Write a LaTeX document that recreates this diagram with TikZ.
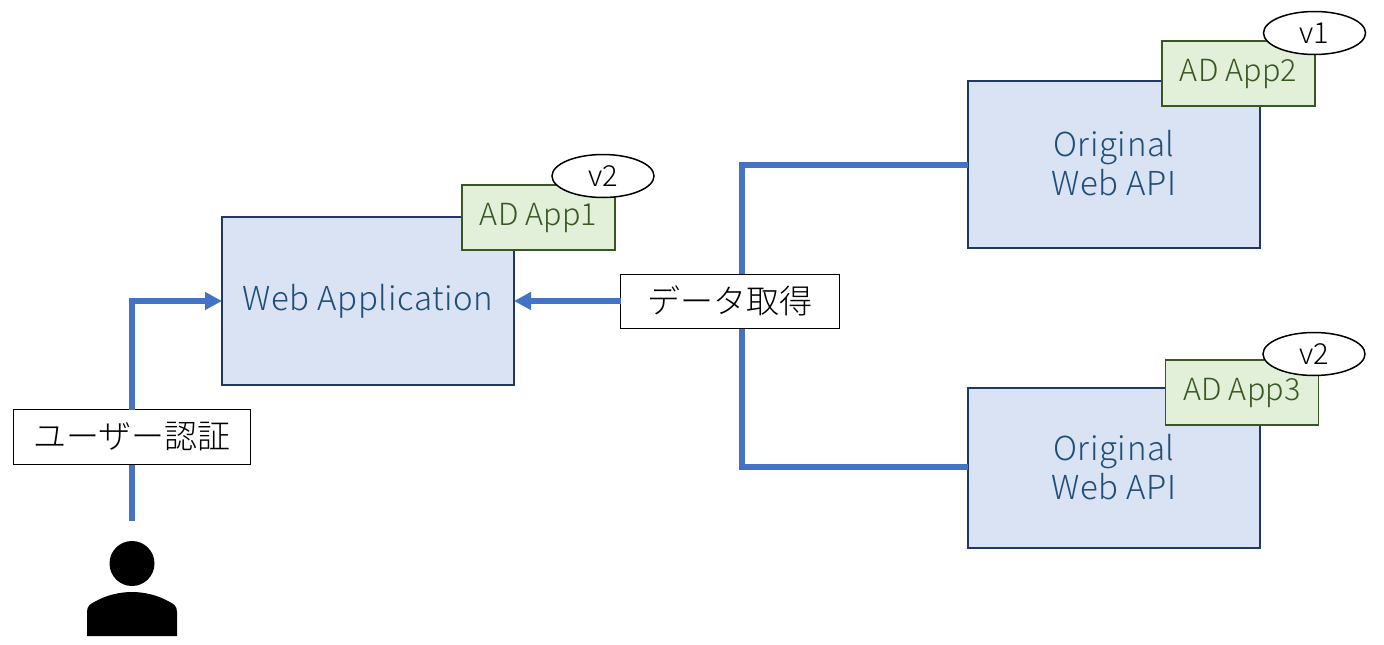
\documentclass[tikz,border=0pt]{standalone}
\usepackage{fontspec}
\setmainfont{Noto Sans CJK JP}[UprightFont=* Light]
\newfontfamily\webfont{Noto Sans CJK JP Light}[LetterSpace=1.8]
\newfontfamily\adfont{Noto Sans CJK JP Light}[LetterSpace=0.5]
\usetikzlibrary{arrows.meta,shapes.geometric}
\definecolor{boxfill}{HTML}{DAE3F3}
\definecolor{boxline}{HTML}{203864}
\definecolor{boxtext}{HTML}{1F4E79}
\definecolor{adfill}{HTML}{E2F0D9}
\definecolor{adline}{HTML}{385723}
\definecolor{conn}{HTML}{4472C4}
\tikzset{x=1pt,y=-1pt,
 every node/.style={inner sep=0pt,outer sep=0pt},
 webbox/.style={draw=boxline,line width=1.5pt,fill=boxfill,text=boxtext,font=\webfont\fontsize{33}{39.5}\selectfont,align=center,anchor=center},
 adbox/.style={draw=adline,line width=1.5pt,fill=adfill,text=adline,font=\adfont\fontsize{30.5}{36}\selectfont,anchor=center,minimum width=153pt,minimum height=65pt},
 verbubble/.style={draw=black,line width=1.5pt,fill=white,ellipse,font=\fontsize{29}{34}\selectfont,minimum width=102pt,minimum height=43pt,anchor=center},
 labelbox/.style={draw=black,line width=0.9pt,fill=white,font=\fontsize{33}{38}\selectfont,anchor=center},
 pipe/.style={draw=conn,line width=5.5pt}
}
\begin{document}
\begin{tikzpicture}
\useasboundingbox (0,0) rectangle (1384,645);
\coordinate (cStart) at (132,521);
\coordinate (cUp) at (132,301);
\coordinate (j1) at (742,165);
\coordinate (j2) at (742,467);
\node[webbox,minimum width=292pt,minimum height=168pt] (app) at (368,301) {\raisebox{-1pt}{Web Application}};
\node[webbox,minimum width=292pt,minimum height=167pt] (api1) at (1114,164.5) {\raisebox{3pt}{Original}\\\raisebox{3pt}{Web API}};
\node[webbox,minimum width=292pt,minimum height=160pt] (api2) at (1114,468) {\raisebox{2.5pt}{Original}\\\raisebox{2.5pt}{Web API}};
\draw[pipe,line join=miter] (api1.west |- j1) -- (j1) -- (j2) -- (api2.west |- j2);
\node[adbox] (ad1) at (538.5,217.5) {\raisebox{-1pt}{AD App1}};
\node[adbox] (ad2) at (1238.5,73.5) {\raisebox{-1pt}{AD App2}};
\node[adbox] (ad3) at (1242,392.5) {\raisebox{-1pt}{AD App3}};
\node[verbubble] (v1) at (603,176) {v2};
\node[verbubble] (v2) at (1314.5,33) {v1};
\node[verbubble] (v3) at (1314,354) {v2};
\node[labelbox,minimum width=219pt,minimum height=54pt] (get) at (730,301) {データ取得};
\node[labelbox,minimum width=237pt,minimum height=55pt] (auth) at (132,437) {ユーザー認証};
\draw[pipe,-{Triangle[length=17pt,width=17pt]}] (get.west) -- (app.east);
\draw[pipe] (cStart) -- (auth.south);
\draw[pipe,-{Triangle[length=17pt,width=17pt]}] (auth.north) -- (cUp) -- (app.west);
\fill[black] (132,563.5) circle (22.5);
\fill[black] (87,636) -- (87,612) .. controls (87,606) and (90,604) .. (96,601) .. controls (107,595) and (120,592) .. (132,592) .. controls (144,592) and (157,595) .. (168,601) .. controls (174,604) and (177,606) .. (177,612) -- (177,636) -- cycle;
\end{tikzpicture}
\end{document}
